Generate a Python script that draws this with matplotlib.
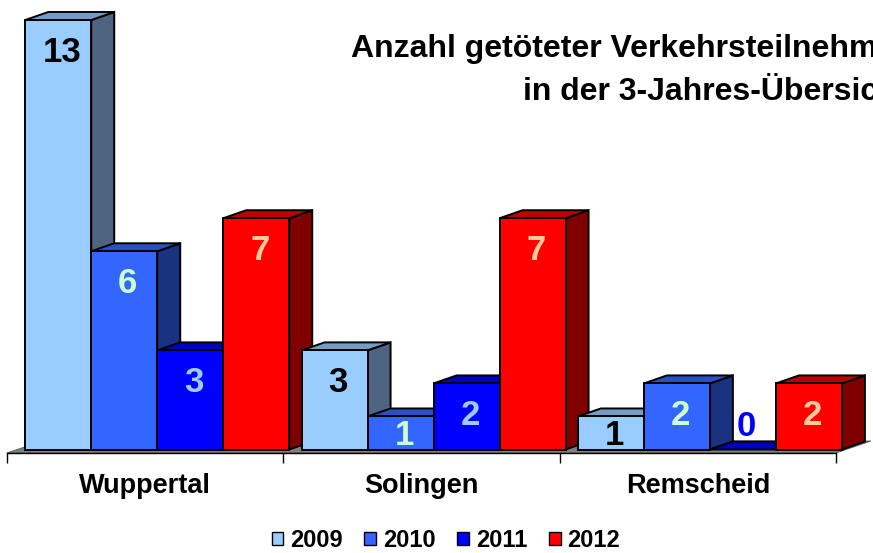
import matplotlib
matplotlib.use("Agg")
import matplotlib.pyplot as plt
from matplotlib.patches import Polygon, Patch

plt.rcParams['font.family'] = ['Liberation Sans', 'DejaVu Sans']

# ---- data ----
categories = ["Wuppertal", "Solingen", "Remscheid"]
years = ["2009", "2010", "2011", "2012"]
values_2009 = [13, 3, 1]
values_2010 = [6, 1, 2]
values_2011 = [3, 2, 0]
values_2012 = [7, 7, 2]
series = [values_2009, values_2010, values_2011, values_2012]
title_lines = ["Anzahl getöteter Verkehrsteilnehmer", "in der 3-Jahres-Übersicht"]

# ---- styles ----
front_colors = ['#99CCFF', '#3366FF', '#0000FF', '#FF0000']
side_colors = ['#4F6480', '#1A3380', '#000080', '#800000']
top_colors = ['#739CC6', '#2A50C8', '#0000C0', '#C00000']
label_colors = ['#000000', '#CCFFCC', '#99CCFF', '#FFCC99']

W, H = 873, 553
fig = plt.figure(figsize=(W / 100, H / 100), dpi=100)

# axes layout in pixels
ax_left_px, ax_right_px = 7, 836
ax_bottom_px = 453
base_px = 449.5
px_per_unit = (base_px - 20) / 13.0
ymin = -(ax_bottom_px - base_px) / px_per_unit
ymax = base_px / px_per_unit
ax = fig.add_axes([ax_left_px / W, (H - ax_bottom_px) / H,
                   (ax_right_px - ax_left_px) / W, ax_bottom_px / H])
ax.set_xlim(0, 3)
ax.set_ylim(ymin, ymax)
px_per_x = (ax_right_px - ax_left_px) / 3.0

# depth of bars and floor
ddx = 23 / px_per_x
ddy = 8 / px_per_unit
fdx = 35 / px_per_x
fdy = 12 / px_per_unit

# floor
floor = Polygon([(0, ymin), (3, ymin), (3 + fdx, ymin + fdy), (fdx, ymin + fdy)],
                closed=True, facecolor='#808080', edgecolor='#555555',
                linewidth=0.6, zorder=1, clip_on=False)
ax.add_patch(floor)

bar_w = 66 / px_per_x
offset = 0.066
lw = 1.4
z = 2
for i, cat in enumerate(categories):
    for j, vals in enumerate(series):
        h = vals[i]
        x0 = i + offset + j * bar_w
        x1 = x0 + bar_w
        top = Polygon([(x0, h), (x1, h), (x1 + ddx, h + ddy), (x0 + ddx, h + ddy)],
                      closed=True, facecolor=top_colors[j], edgecolor='black',
                      linewidth=lw, zorder=z, clip_on=False)
        side = Polygon([(x1, 0), (x1 + ddx, ddy), (x1 + ddx, h + ddy), (x1, h)],
                       closed=True, facecolor=side_colors[j], edgecolor='black',
                       linewidth=lw, zorder=z, clip_on=False)
        ax.add_patch(side)
        ax.add_patch(top)
        if h > 0:
            ax.bar(x0, h, width=bar_w, align='edge', color=front_colors[j],
                   edgecolor='black', linewidth=lw, zorder=z + 0.5, clip_on=False)
        if h > 0:
            yc = max(h - 0.88, h / 2.0)
            col = label_colors[j]
        else:
            yc = 0.79
            col = front_colors[j]
        yb = yc - 12.5 / px_per_unit
        ax.text(x0 + bar_w / 2 + 0.013, yb, str(h), ha='center', va='baseline',
                fontsize=25, fontweight='bold', color=col, zorder=z + 0.8)
        z += 1

# axis styling
for s in ['top', 'right', 'left']:
    ax.spines[s].set_visible(False)
ax.spines['bottom'].set_linewidth(1.0)
ax.spines['bottom'].set_zorder(z + 5)
ax.set_yticks([])
ax.set_xticks([0, 1, 2, 3])
ax.set_xticklabels([])
ax.tick_params(axis='x', which='major', length=7, width=1.0, direction='out')
ax.set_xticks([0.5, 1.5, 2.5], minor=True)
ax.set_xticklabels(categories, minor=True, fontsize=19.5, fontweight='bold')
ax.tick_params(axis='x', which='minor', length=0, pad=14.5)
ax.patch.set_visible(False)

# title (right aligned, running past the figure edge as in the reference)
fig.text(908 / W, 1 - 57 / H, title_lines[0], ha='right', va='baseline',
         fontsize=23, fontweight='bold')
fig.text(908 / W, 1 - 100 / H, title_lines[1], ha='right', va='baseline',
         fontsize=23, fontweight='bold')

# legend
handles = [Patch(facecolor=front_colors[j], edgecolor='black', linewidth=1.0)
           for j in range(4)]
fig.legend(handles, years, loc='center', bbox_to_anchor=(446 / W, 1 - 540.5 / H),
           ncol=4, frameon=False, handlelength=0.5, handleheight=0.5,
           handletextpad=0.3, columnspacing=0.9,
           prop={'size': 17, 'weight': 'bold'})

fig.savefig('out.png', dpi=100)
